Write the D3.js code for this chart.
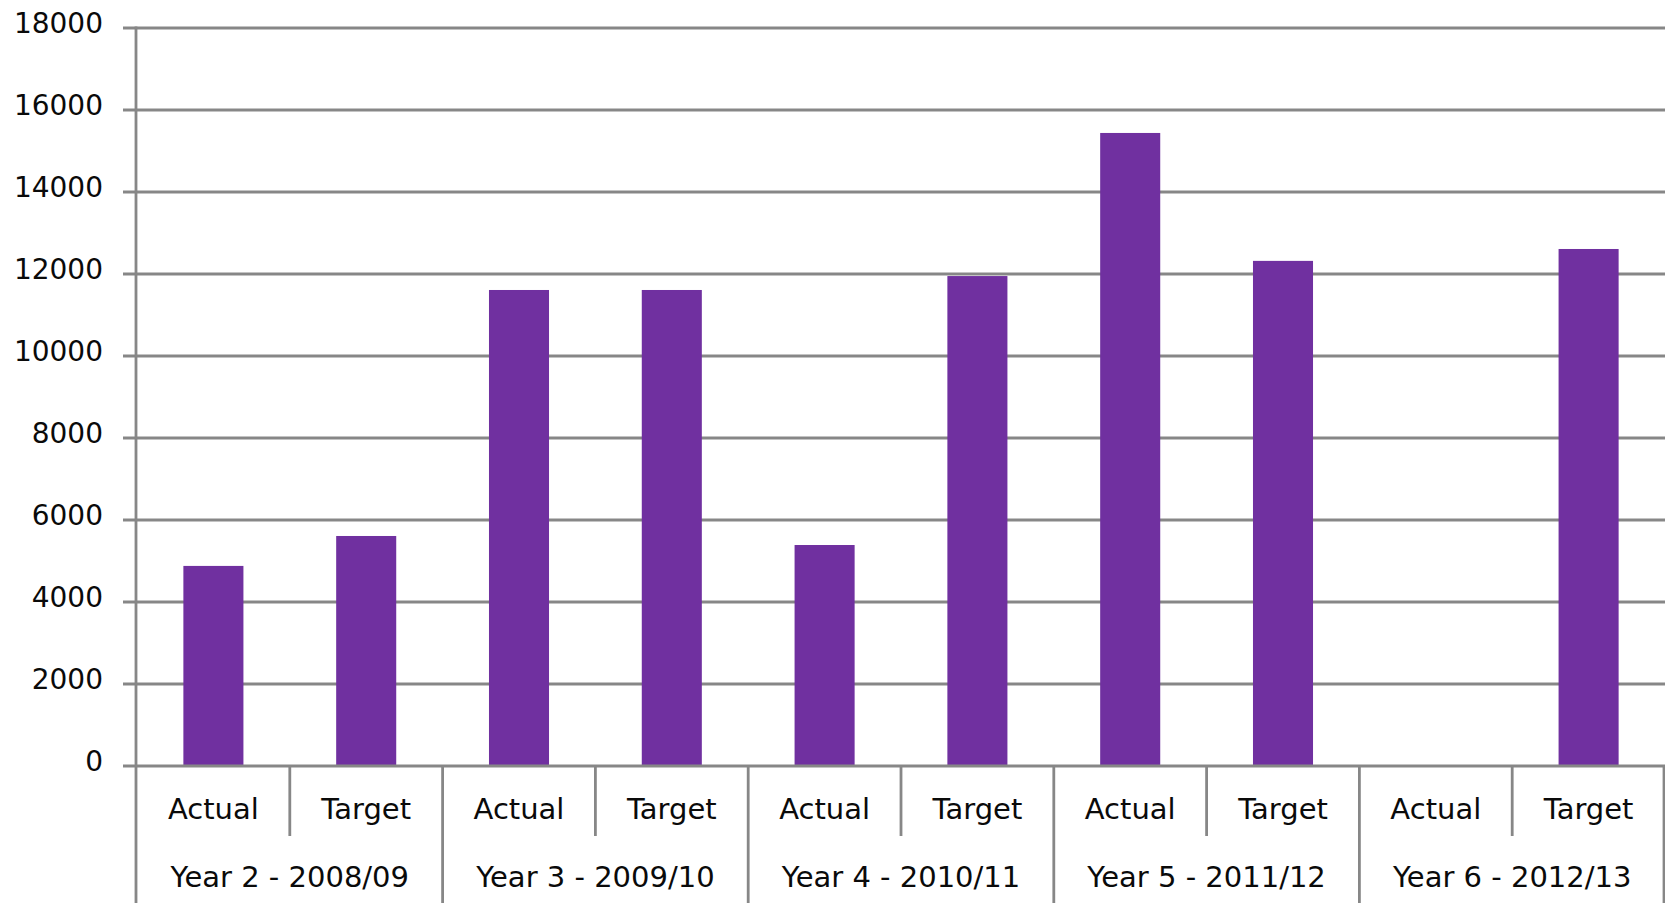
<!DOCTYPE html>
<html>
<head>
<meta charset="utf-8">
<script src="https://cdn.jsdelivr.net/npm/d3@7"></script>
<style>
  html, body { margin: 0; padding: 0; background: #fff; }
  svg { display: block; }
  text { font-family: "DejaVu Sans", sans-serif; fill: #0a0a0a; }
</style>
</head>
<body>
<svg id="chart" width="1665" height="903"></svg>
<script>
// ---- data ----
const groups = ["Year 2 - 2008/09", "Year 3 - 2009/10", "Year 4 - 2010/11", "Year 5 - 2011/12", "Year 6 - 2012/13"];
const seriesNames = ["Actual", "Target"];
const actualValues = [4880, 11610, 5390, 15440, null];
const targetValues = [5610, 11610, 11950, 12320, 12610];
const yTickValues = [0, 2000, 4000, 6000, 8000, 10000, 12000, 14000, 16000, 18000];

(function () {
// ---- layout ----
const W = 1665, H = 903;
const plotLeft = 136, plotRight = 1664, plotTop = 28, plotBottom = 766;
const gridColor = "#878787";
const barColor = "#7030A0";

const svg = d3.select("#chart");

const y = d3.scaleLinear().domain([0, 18000]).range([plotBottom, plotTop]);
const x0 = d3.scaleBand().domain(groups).range([plotLeft, plotRight]).paddingInner(0).paddingOuter(0);
const x1 = d3.scaleBand().domain(seriesNames).range([0, x0.bandwidth()]).paddingInner(0.607).paddingOuter(0.3035);

const rows = groups.map((g, i) => ({ group: g, values: [
  { series: "Actual", value: actualValues[i] },
  { series: "Target", value: targetValues[i] }
]}));

// gridlines + y tick marks
svg.append("g").selectAll("line").data(yTickValues.filter(d => d > 0)).join("line")
  .attr("x1", plotLeft - 13).attr("x2", W)
  .attr("y1", d => y(d)).attr("y2", d => y(d))
  .attr("stroke", gridColor).attr("stroke-width", 2.8);

// bars
const gGroups = svg.append("g").selectAll("g").data(rows).join("g")
  .attr("transform", d => `translate(${x0(d.group) + 1},0)`);
gGroups.selectAll("rect").data(d => d.values.filter(v => v.value != null)).join("rect")
  .attr("x", d => x1(d.series))
  .attr("width", x1.bandwidth())
  .attr("y", d => y(d.value))
  .attr("height", d => y(0) - y(d.value))
  .attr("fill", barColor);

// y axis line (extends to bottom of image)
svg.append("line").attr("x1", plotLeft).attr("x2", plotLeft).attr("y1", plotTop - 1.4).attr("y2", H)
  .attr("stroke", gridColor).attr("stroke-width", 2.8);
// x axis baseline
svg.append("line").attr("x1", plotLeft - 13).attr("x2", W).attr("y1", y(0)).attr("y2", y(0))
  .attr("stroke", gridColor).attr("stroke-width", 2.8);

// y tick labels
svg.append("g").selectAll("text").data(yTickValues).join("text")
  .attr("x", 103).attr("y", d => y(d) + 5)
  .attr("text-anchor", "end")
  .style("font-size", "28px")
  .text(d => d);

// group separators (long)
svg.append("g").selectAll("line").data(groups.slice(1).concat(["__end"])).join("line")
  .attr("x1", d => d === "__end" ? plotRight : x0(d) + 1)
  .attr("x2", d => d === "__end" ? plotRight : x0(d) + 1)
  .attr("y1", y(0)).attr("y2", H)
  .attr("stroke", gridColor).attr("stroke-width", 2.8);

// inner separators (short)
svg.append("g").selectAll("line").data(groups).join("line")
  .attr("x1", d => x0(d) + x0.bandwidth() / 2 + 1)
  .attr("x2", d => x0(d) + x0.bandwidth() / 2 + 1)
  .attr("y1", y(0)).attr("y2", 836)
  .attr("stroke", gridColor).attr("stroke-width", 2.8);

// series labels
gGroups.selectAll("text.s").data(seriesNames).join("text")
  .attr("class", "s")
  .attr("x", d => x1(d) + x1.bandwidth() / 2)
  .attr("y", 819)
  .attr("text-anchor", "middle")
  .style("font-size", "29px")
  .text(d => d);

// group labels
gGroups.append("text")
  .attr("x", x0.bandwidth() / 2)
  .attr("y", 887)
  .attr("text-anchor", "middle")
  .style("font-size", "29px")
  .text(d => d.group);
})();
</script>
</body>
</html>
